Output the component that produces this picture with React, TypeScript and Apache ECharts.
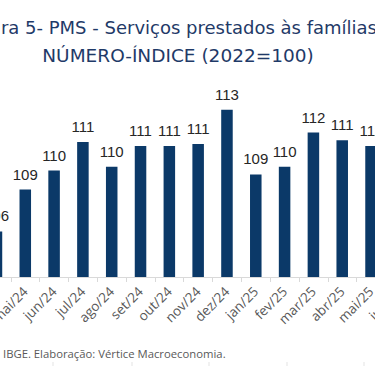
import React, { useEffect, useRef } from "react";
import * as echarts from "echarts";

const categories = ["abr/24", "mai/24", "jun/24", "jul/24", "ago/24", "set/24", "out/24", "nov/24", "dez/24", "jan/25", "fev/25", "mar/25", "abr/25", "mai/25", "jun/25"];
const values = [106.4, 108.6, 109.6, 111.1, 109.8, 110.9, 110.9, 111.0, 112.8, 109.4, 109.8, 111.6, 111.2, 110.9, 111.0];
const titleLine1 = "Figura 5- PMS - Serviços prestados às famílias";
const titleLine2 = "NÚMERO-ÍNDICE (2022=100)";
const footer = "IBGE. Elaboração: Vértice Macroeconomia.";
const footerMarks = [53, 132, 209, 287, 364];

const OFFSET = 40;

export default function App() {
  const ref = useRef<HTMLDivElement>(null);
  useEffect(() => {
    if (!ref.current) return;
    const chart = echarts.init(ref.current, null, { renderer: "svg" });
    const navy = "#0b3968";
    chart.setOption({
      animation: false,
      backgroundColor: "#ffffff",
      grid: { left: 20, right: 5.75, top: 87, bottom: 89, containLabel: false },
      xAxis: {
        type: "category",
        data: categories,
        boundaryGap: true,
        axisLine: { show: true, lineStyle: { color: "#d9d9d9", width: 1 } },
        axisTick: { show: true, length: 5, lineStyle: { color: "#d9d9d9" } },
        axisLabel: {
          rotate: 45,
          interval: 0,
          margin: 12,
          fontSize: 13.5,
          color: "#595959",
          fontFamily: "Open Sans",
        },
      },
      yAxis: {
        type: "value",
        min: 104,
        max: 114,
        show: false,
        splitLine: { show: false },
      },
      series: [
        {
          type: "bar",
          data: values,
          barWidth: "40%",
          itemStyle: { color: navy },
          label: {
            show: true,
            position: "top",
            distance: 8,
            fontSize: 15,
            color: "#262626",
            fontFamily: "Liberation Sans",
            formatter: (p: any) => String(Math.round(p.value)),
          },
        },
      ],
      graphic: [
        {
          type: "text",
          x: 377 + OFFSET,
          y: 27,
          style: {
            text: titleLine1,
            fontSize: 18,
            fontFamily: "DejaVu Sans",
            fill: "#1f3a68",
            textAlign: "right",
            textVerticalAlign: "middle",
          },
        },
        {
          type: "text",
          x: 178 + OFFSET,
          y: 55,
          style: {
            text: titleLine2,
            fontSize: 18.5,
            fontFamily: "DejaVu Sans",
            fill: "#1f3a68",
            textAlign: "center",
            textVerticalAlign: "middle",
          },
        },
        {
          type: "text",
          x: 3 + OFFSET,
          y: 353,
          style: {
            text: footer,
            fontSize: 11.3,
            fontFamily: "Open Sans",
            fill: "#595959",
            textAlign: "left",
            textVerticalAlign: "middle",
          },
        },
        ...footerMarks.map((mx) => ({
          type: "line",
          shape: { x1: mx + OFFSET, y1: 362, x2: mx + OFFSET, y2: 366 },
          style: { stroke: "#e3e3e3", lineWidth: 1 },
        })),
      ],
    });
    return () => chart.dispose();
  }, []);
  return (
    <div style={{ position: "fixed", left: 0, top: 0, width: 375, height: 366, overflow: "hidden", background: "#fff" }}>
      <div ref={ref} style={{ position: "absolute", left: -OFFSET, top: 0, width: 460, height: 366 }} />
    </div>
  );
}
